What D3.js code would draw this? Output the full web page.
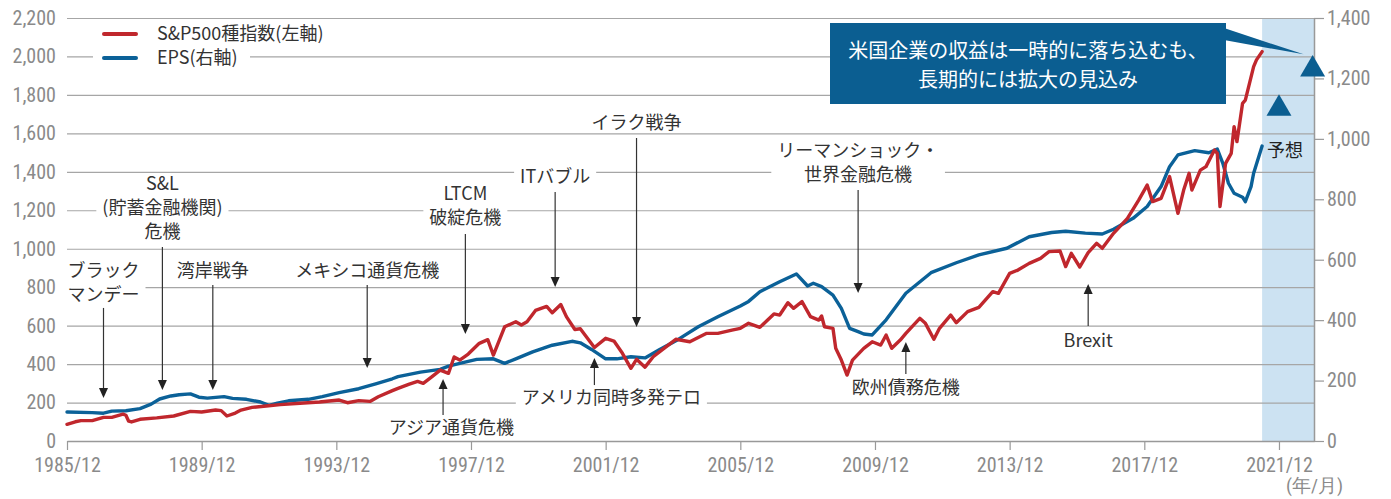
<!DOCTYPE html>
<html><head><meta charset="utf-8">
<script src="https://cdn.jsdelivr.net/npm/d3@7/dist/d3.min.js"></script>
<style>
body{margin:0;background:#fff;}
svg{display:block;}
.num{font-family:"Liberation Sans Narrow","Roboto Condensed","DejaVu Sans Condensed",Roboto,sans-serif;font-stretch:condensed;fill:#8a8a8a;font-size:20px;}
.jp{font-family:"Noto Sans CJK JP","Noto Sans",sans-serif;}
</style></head><body>
<svg id="chart" width="1391" height="499"></svg>
<script>
// ---------- DATA ----------
const spDates = ["1985-12","1986-03","1986-05","1986-09","1987-01","1987-04","1987-08","1987-09","1987-10","1987-11","1988-02","1988-08","1989-02","1989-08","1989-12","1990-05","1990-07","1990-09","1990-12","1991-02","1991-06","1991-11","1992-04","1992-11","1993-06","1994-01","1994-04","1994-08","1994-12","1995-03","1995-08","1995-10","1996-02","1996-05","1996-07","1996-10","1997-01","1997-04","1997-06","1997-08","1997-11","1998-03","1998-06","1998-08","1998-12","1999-04","1999-06","1999-08","1999-11","2000-03","2000-05","2000-08","2000-10","2001-01","2001-03","2001-08","2001-12","2002-03","2002-06","2002-09","2002-11","2003-02","2003-05","2003-08","2004-01","2004-06","2004-12","2005-04","2005-09","2005-12","2006-03","2006-07","2006-12","2007-02","2007-05","2007-07","2007-10","2008-01","2008-04","2008-05","2008-06","2008-09","2008-10","2008-12","2009-02","2009-04","2009-08","2009-11","2010-02","2010-04","2010-06","2010-09","2010-11","2011-04","2011-06","2011-09","2011-11","2012-03","2012-05","2012-09","2013-01","2013-06","2013-08","2013-12","2014-03","2014-07","2014-11","2015-02","2015-06","2015-08","2015-10","2016-01","2016-04","2016-07","2016-09","2017-01","2017-06","2017-10","2018-01","2018-03","2018-06","2018-09","2018-12","2019-02","2019-04","2019-05","2019-08","2019-10","2020-01","2020-02","2020-03","2020-05","2020-07","2020-08","2020-09","2020-11","2020-12","2021-03","2021-04","2021-06"];
const spValues = [87,100,106,106,123,123,140,134,103,99,113,120,130,154,151,161,158,130,145,161,175,182,189,196,203,213,199,210,206,230,262,274,296,310,300,334,369,352,437,421,452,508,527,447,594,620,603,620,679,700,667,710,647,580,584,486,534,520,456,378,425,384,438,473,529,516,560,560,577,586,612,591,661,655,719,690,725,647,629,650,594,586,482,421,343,421,482,516,499,551,482,525,560,638,612,529,586,655,615,673,695,777,768,872,889,924,950,985,988,907,976,905,980,1028,1002,1080,1158,1253,1331,1245,1262,1375,1184,1305,1392,1305,1409,1427,1513,1496,1219,1444,1496,1635,1557,1756,1773,1947,1982,2025];

const epsDates = ["1985-12","1986-09","1987-01","1987-04","1987-09","1988-02","1988-06","1988-09","1989-01","1989-04","1989-08","1989-11","1990-02","1990-08","1990-11","1991-04","1991-09","1991-12","1992-03","1992-07","1993-02","1993-07","1994-01","1994-08","1995-02","1995-08","1995-10","1996-06","1997-01","1997-04","1997-08","1998-02","1998-08","1998-12","1999-04","1999-10","2000-05","2000-12","2001-03","2001-07","2001-12","2002-04","2002-09","2003-02","2003-07","2004-02","2004-09","2005-04","2005-12","2006-03","2006-07","2007-02","2007-08","2007-12","2008-02","2008-05","2008-09","2008-12","2009-03","2009-06","2009-08","2009-11","2010-04","2010-11","2011-08","2012-05","2013-01","2013-11","2014-07","2015-03","2015-08","2016-03","2016-09","2017-01","2017-08","2018-01","2018-06","2018-09","2018-12","2019-06","2019-11","2020-02","2020-04","2020-06","2020-08","2020-11","2020-12","2021-02","2021-03","2021-06"];
const epsValues = [96,94,92,99,100,107,122,139,149,153,156,145,142,147,141,138,129,118,125,133,138,147,160,173,189,206,213,228,237,248,257,270,272,257,272,295,317,330,325,303,272,272,279,275,301,337,378,411,447,462,494,527,553,513,522,511,483,439,373,362,354,351,401,489,557,590,616,638,676,690,694,688,685,701,737,776,842,908,947,961,954,966,919,853,820,807,792,842,886,976];

const forecastDates = ["2021-12","2022-12"];
const forecastValues = [1100,1230];
const forecastStart = "2021-06";

const leftTicks = [0,200,400,600,800,1000,1200,1400,1600,1800,2000,2200];
const rightTicks = [0,200,400,600,800,1000,1200,1400];
const xTickDates = ["1985-12","1989-12","1993-12","1997-12","2001-12","2005-12","2009-12","2013-12","2017-12","2021-12"];
const xTickLabels = ["1985/12","1989/12","1993/12","1997/12","2001/12","2005/12","2009/12","2013/12","2017/12","2021/12"];

const legendLabels = ["S&P500種指数(左軸)","EPS(右軸)"];
const calloutLines = ["米国企業の収益は一時的に落ち込むも、","長期的には拡大の見込み"];
const forecastLabel = "予想";
const unitLabel = "(年/月)";

const annoLabels = [["ブラック","マンデー"],["S&L","(貯蓄金融機関)","危機"],["湾岸戦争"],["メキシコ通貨危機"],["LTCM","破綻危機"],["ITバブル"],["イラク戦争"],["アメリカ同時多発テロ"],["アジア通貨危機"],["リーマンショック・","世界金融危機"],["欧州債務危機"],["Brexit"]];
const annoDates     = ["1987-01","1988-10","1990-04","1994-11","1997-10","2000-06","2002-11","2001-08","1997-02","2009-06","2010-11","2016-04"];
const annoTextDates = ["1987-01","1988-10","1990-04","1994-11","1997-10","2000-06","2002-11","2002-02","1997-05","2009-06","2010-11","2016-04"];
const annoTextValues = [889,1337,889,889,1285,1378,1654,224,68,1513,276,525];
const annoTailValues = [692,1009,811,811,1077,1295,1576,291,135,1305,348,598];
const annoTipValues  = [224,265,265,380,556,801,593,432,322,770,515,817];

// ---------- CHART ----------
const C = {left:67,right:1314,top:18,bottom:441};
const RED="#c0272d", BLUE="#0b6198", BOXBLUE="#0b5e91";
const parse=d3.timeParse("%Y-%m");
const x=d3.scaleTime().domain([parse("1985-12"), new Date(2022,11,16)]).range([C.left,C.right]);
const yL=d3.scaleLinear().domain([0,2200]).range([C.bottom,C.top]);
const yR=d3.scaleLinear().domain([0,1400]).range([C.bottom,C.top]);
const svg=d3.select("#chart");

// forecast shade
const xs=x(parse(forecastStart));
svg.append("rect").attr("x",xs).attr("y",C.top).attr("width",C.right-xs).attr("height",C.bottom-C.top).attr("fill","#cce2f2");

// gridlines
svg.append("g").selectAll("line").data(leftTicks.filter(d=>d>0)).join("line")
  .attr("x1",C.left).attr("x2",C.right).attr("y1",d=>yL(d)+0.5).attr("y2",d=>yL(d)+0.5)
  .attr("stroke","#a6a6a6").attr("stroke-width",1.2);

// left axis labels
const gl=svg.append("g").attr("transform",`translate(${C.left},0)`)
  .call(d3.axisLeft(yL).tickValues(leftTicks).tickFormat(d3.format(",")).tickSize(0).tickPadding(11));
gl.select(".domain").remove();
gl.selectAll("text").attr("class","num").attr("fill",null).attr("font-size",null).attr("font-family",null);

// bottom axis
const gb=svg.append("g").attr("transform",`translate(0,${C.bottom})`)
  .call(d3.axisBottom(x).tickValues(xTickDates.map(parse)).tickFormat((d,i)=>xTickLabels[i]).tickSize(9).tickSizeOuter(0).tickPadding(8));
gb.select(".domain").attr("stroke","#999").attr("stroke-width",1.5);
gb.selectAll(".tick line").attr("stroke","#999").attr("stroke-width",1.2);
gb.selectAll("text").attr("class","num").attr("fill",null).attr("font-size",null).attr("font-family",null);

// right axis
const gr=svg.append("g").attr("transform",`translate(${C.right},0)`)
  .call(d3.axisRight(yR).tickValues(rightTicks).tickFormat(d3.format(",")).tickSize(10).tickSizeOuter(0).tickPadding(3));
gr.select(".domain").attr("stroke","#999").attr("stroke-width",1.5);
gr.selectAll(".tick line").attr("stroke","#999").attr("stroke-width",1.2);
gr.selectAll("text").attr("class","num").attr("fill",null).attr("font-size",null).attr("font-family",null);

// unit label
svg.append("text").attr("class","num").attr("font-size",19).style("font-size","19px").attr("x",x(parse("2022-12"))+2).attr("y",C.bottom+45).attr("dy","0.32em").attr("text-anchor","middle").text(unitLabel);

// annotation backgrounds + text
const LH=24;
const annoG=svg.append("g");
annoLabels.forEach((lines,i)=>{
  const g=annoG.append("g");
  const cx=x(parse(annoTextDates[i])), cy=yL(annoTextValues[i]);
  const t=g.append("text").attr("class","jp").attr("font-size",18).attr("fill","#333").attr("text-anchor","middle");
  lines.forEach((s,j)=>t.append("tspan").attr("x",cx).attr("y",cy+j*LH).attr("dy","0.36em").text(s));
  const bb=t.node().getBBox();
  g.insert("rect","text").attr("x",bb.x-6).attr("y",cy-9).attr("width",bb.width+12).attr("height",(lines.length-1)*LH+18).attr("fill","#fff");
});

// data lines
const lineL=d3.line().x((d,i)=>x(parse(spDates[i]))).y(d=>yL(d)).curve(d3.curveLinear);
const lineR=d3.line().x((d,i)=>x(parse(epsDates[i]))).y(d=>yR(d)).curve(d3.curveLinear);
svg.append("path").datum(epsValues).attr("d",lineR).attr("fill","none").attr("stroke",BLUE).attr("stroke-width",3.4).attr("stroke-linejoin","round").attr("stroke-linecap","round");
svg.append("path").datum(spValues).attr("d",lineL).attr("fill","none").attr("stroke",RED).attr("stroke-width",3.4).attr("stroke-linejoin","round").attr("stroke-linecap","round");

// arrows
annoLabels.forEach((lines,i)=>{
  const ax=x(parse(annoDates[i])), y0=yL(annoTailValues[i]), y1=yL(annoTipValues[i]);
  const dir=y1>y0?1:-1;
  svg.append("line").attr("x1",ax).attr("x2",ax).attr("y1",y0).attr("y2",y1-dir*8).attr("stroke","#333").attr("stroke-width",1.2);
  svg.append("path").attr("d",`M${ax},${y1}L${ax-4.5},${y1-dir*10}L${ax+4.5},${y1-dir*10}Z`).attr("fill","#222");
});

// forecast triangles
svg.append("g").selectAll("path").data(forecastValues).join("path")
  .attr("d",d3.symbol(d3.symbolTriangle,270))
  .attr("transform",(d,i)=>`translate(${x(parse(forecastDates[i]))},${yR(d)})`)
  .attr("fill",BOXBLUE);

// forecast label
svg.append("text").attr("class","jp").attr("font-size",18).attr("fill","#222")
  .attr("x",x(parse(epsDates[epsDates.length-1]))+5).attr("y",yR(epsValues[epsValues.length-1])+4).attr("dy","0.36em").text(forecastLabel);

// callout
const bx0=830,bx1=1226,by0=23,by1=104;
const tip=[x(parse(forecastDates[1]))-9, yR(forecastValues[1])-15];
svg.append("path").attr("d",`M${bx1-2},${by0+5}L${tip[0]},${tip[1]}L${bx1-2},${by0+17}Z`).attr("fill",BOXBLUE);
svg.append("rect").attr("x",bx0).attr("y",by0).attr("width",bx1-bx0).attr("height",by1-by0).attr("fill",BOXBLUE);
calloutLines.forEach((s,j)=>svg.append("text").attr("class","jp").attr("font-size",20).attr("fill","#fff")
  .attr("text-anchor","middle").attr("x",(bx0+bx1)/2).attr("y",51+j*29).attr("dy","0.36em").text(s));

// legend
svg.append("rect").attr("x",93).attr("y",22).attr("width",157).attr("height",48).attr("fill","#fff");
[RED,BLUE].forEach((c,i)=>{
  const ly=34+i*24;
  svg.append("line").attr("x1",104).attr("x2",136).attr("y1",ly).attr("y2",ly).attr("stroke",c).attr("stroke-width",4).attr("stroke-linecap","round");
  svg.append("text").attr("class","jp").attr("font-size",18).attr("fill","#333").attr("x",157).attr("y",ly).attr("dy","0.36em").text(legendLabels[i]);
});
</script></body></html>
